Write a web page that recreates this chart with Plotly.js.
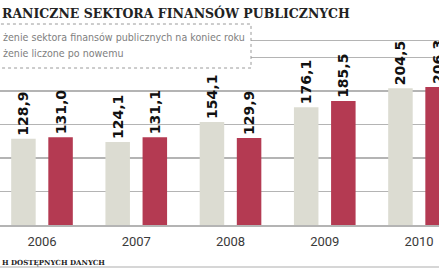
<!DOCTYPE html>
<html>
<head>
<meta charset="utf-8">
<script src="https://cdn.plot.ly/plotly-3.0.1.min.js"></script>
<style>html,body{margin:0;padding:0;background:#fff;}#chart{width:439px;height:268px;}</style>
</head>
<body>
<div id="chart"></div>
<script>
const years = ['2006', '2007', '2008', '2009', '2010'];
const seriesEndOfYear = [128.9, 124.1, 154.1, 176.1, 204.5];
const seriesNewMethod = [131.0, 131.1, 129.9, 185.5, 206.3];
const seriesNames = ['żenie sektora finansów publicznych na koniec roku', 'żenie liczone po nowemu'];
const titleText = 'RANICZNE SEKTORA FINANSÓW PUBLICZNYCH';
const footerText = 'H DOSTĘPNYCH DANYCH';

const fmt = v => v.toFixed(1).replace('.', ',');
const W = 439, H = 268, T = 41, B = 43;
const plotH = H - T - B;
const py = p => (H - B - p) / plotH;

const labelFont = {family: 'DejaVu Sans', size: 14, color: '#111', weight: 'bold'};
const legendFont = {family: 'Liberation Sans Narrow, DejaVu Sans Condensed, Roboto', size: 10.6, color: '#808080'};

const traces = [
  {type: 'bar', x: years, y: seriesEndOfYear, name: seriesNames[0],
   marker: {color: '#dcdcd2'}, text: seriesEndOfYear.map(fmt),
   textposition: 'outside', textangle: -90, textfont: labelFont, constraintext: 'none', cliponaxis: false, hoverinfo: 'none'},
  {type: 'bar', x: years, y: seriesNewMethod, name: seriesNames[1],
   marker: {color: '#b43a52'}, text: seriesNewMethod.map(fmt),
   textposition: 'outside', textangle: -90, textfont: labelFont, constraintext: 'none', cliponaxis: false, hoverinfo: 'none'}
];

const layout = {
  width: W, height: H,
  margin: {l: 0, r: 0, t: T, b: B, pad: 0},
  paper_bgcolor: '#fff', plot_bgcolor: '#fff',
  showlegend: false,
  barmode: 'group', bargap: 0.212, bargroupgap: 0.34,
  xaxis: {type: 'category', range: [-0.4456, 4.212], showgrid: false, zeroline: false,
    showline: true, mirror: true, linecolor: '#b4b4b4', linewidth: 1.5, ticks: '',
    tickfont: {family: 'Roboto', size: 13, color: '#3a3a3a'}, ticklabelstandoff: 4},
  yaxis: {range: [0, 275], tick0: 0, dtick: 50, showgrid: true, gridcolor: '#b4b4b4', gridwidth: 1.5,
    zeroline: false, showticklabels: false, showline: false, ticks: ''},
  shapes: [
    {type: 'rect', xref: 'paper', yref: 'paper', x0: -0.05, x1: 251 / W, y0: py(68), y1: py(24),
     line: {color: '#9a9a9a', width: 1, dash: 'dot'}, fillcolor: '#fff', layer: 'above'},
    {type: 'line', xref: 'paper', yref: 'paper', x0: 0, x1: 1, y0: py(267), y1: py(267),
     line: {color: '#c8c8c8', width: 1.5}}
  ],
  annotations: [
    {xref: 'paper', yref: 'paper', x: 0, y: py(13), xanchor: 'left', yanchor: 'middle', showarrow: false,
     text: titleText, font: {family: 'DejaVu Serif', size: 12.5, color: '#222', weight: 'bold'}},
    {xref: 'paper', yref: 'paper', x: 1 / W, y: py(37), xanchor: 'left', yanchor: 'middle', showarrow: false,
     text: seriesNames[0], font: legendFont},
    {xref: 'paper', yref: 'paper', x: 1 / W, y: py(53), xanchor: 'left', yanchor: 'middle', showarrow: false,
     text: seriesNames[1], font: legendFont},
    {xref: 'paper', yref: 'paper', x: 0, y: py(262), xanchor: 'left', yanchor: 'middle', showarrow: false,
     text: footerText, font: {family: 'DejaVu Serif', size: 7, color: '#222', weight: 'bold'}}
  ]
};

Plotly.newPlot('chart', traces, layout, {staticPlot: true, displayModeBar: false});
</script>
</body>
</html>
